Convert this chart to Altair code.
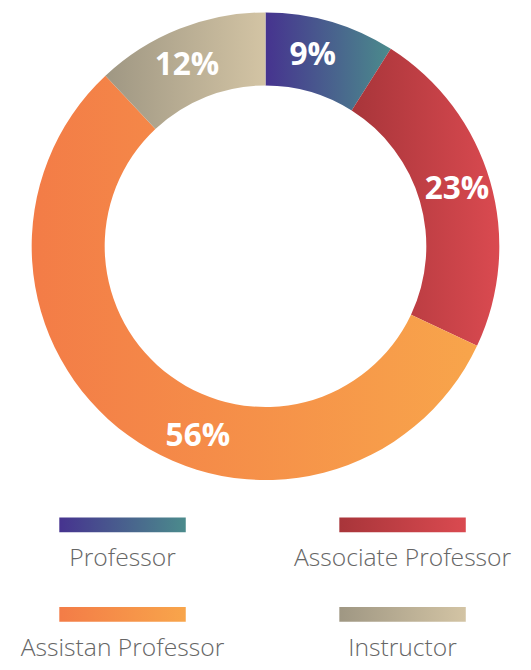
import altair as alt
import pandas as pd

# ---- data ----
categories = ["Professor", "Associate Professor", "Assistan Professor", "Instructor"]
values = [9, 23, 56, 12]

# ---- styles (gradient start/end colours per slice) ----
gradient_colors = {
    "Professor": ("#46338f", "#4b8b8c"),
    "Associate Professor": ("#a8353a", "#da4a50"),
    "Assistan Professor": ("#f37c47", "#f8a54b"),
    "Instructor": ("#9f9783", "#d3c4a4"),
}
# small pixel nudges of the percentage labels (layout only)
label_nudge = {
    "Professor": (-8, -2),
    "Associate Professor": (2, -2),
    "Assistan Professor": (49, 31),
    "Instructor": (-6, 2),
}


def grad(cat):
    c0, c1 = gradient_colors[cat]
    return alt.LinearGradient(
        gradient="linear",
        stops=[alt.GradientStop(color=c0, offset=0), alt.GradientStop(color=c1, offset=1)],
        x1=0, x2=1, y1=0, y2=0,
    )


df = pd.DataFrame({"category": categories, "value": values, "order": list(range(len(categories)))})
total = sum(values)
theta_scale = alt.Scale(domain=[0, total], zero=True, nice=False)

base = (
    alt.Chart(df)
    .transform_window(cum="sum(value)", sort=[alt.SortField("order")], frame=[None, 0])
    .transform_calculate(
        start="datum.cum - datum.value",
        mid="datum.cum - datum.value / 2",
        label="datum.value + '%'",
    )
)

arcs = [
    base.transform_filter(alt.datum.category == cat)
    .mark_arc(innerRadius=163, outerRadius=237, fill=grad(cat))
    .encode(theta=alt.Theta("start:Q", scale=theta_scale), theta2="cum:Q")
    for cat in categories
]

labels = [
    base.transform_filter(alt.datum.category == cat)
    .mark_text(
        radius=200, font="Open Sans", fontWeight="bold", fontSize=32, color="white",
        baseline="middle", align="center", dx=label_nudge[cat][0], dy=label_nudge[cat][1],
    )
    .encode(theta=alt.Theta("mid:Q", scale=theta_scale), text="label:N")
    for cat in categories
]

donut = alt.layer(*arcs, *labels).properties(width=522, height=474)

# ---- custom gradient legend (2 x 2 grid) ----
ldf = pd.DataFrame({
    "category": categories,
    "col": [i % 2 for i in range(len(categories))],
    "row": [i // 2 for i in range(len(categories))],
})
lbase = alt.Chart(ldf)
xenc = alt.X("col:O", axis=None, scale=alt.Scale(type="band", paddingInner=0.5484, paddingOuter=0.1832))
yenc = alt.Y("row:O", axis=None,
             scale=alt.Scale(type="band", paddingInner=0.8346, paddingOuter=0.3545, align=0.4355))

swatches = [
    lbase.transform_filter(alt.datum.category == cat)
    .mark_rect(fill=grad(cat))
    .encode(x=xenc, y=yenc)
    for cat in categories
]
ltext = lbase.mark_text(
    font="Open Sans", fontSize=25, fontWeight=300, color="#666666",
    baseline="alphabetic", align="center", dy=42, clip=True,
).encode(x=xenc, y=yenc, text="category:N")

legend = alt.layer(*swatches, ltext).properties(width=516, height=170)

chart = (
    alt.vconcat(donut, legend, spacing=10)
    .properties(padding=0)
    .configure_view(stroke=None)
)

chart.save("out.html", embed_options={"renderer": "svg", "actions": False})
